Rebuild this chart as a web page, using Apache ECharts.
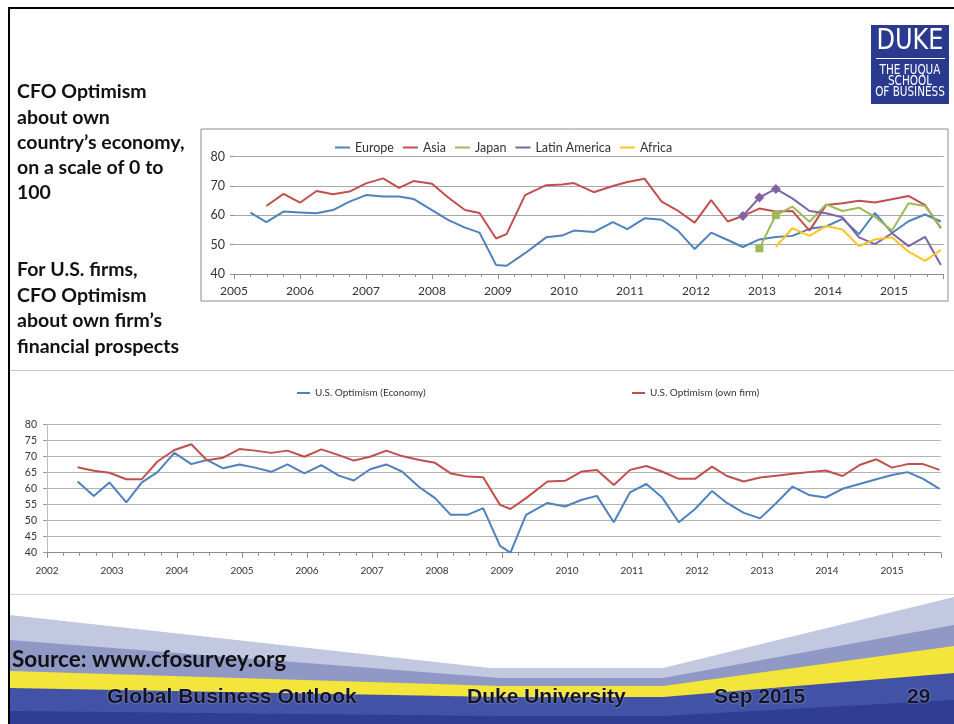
<!DOCTYPE html>
<html>
<head>
<meta charset="utf-8">
<script src="https://cdn.jsdelivr.net/npm/echarts@6/dist/echarts.min.js"></script>
<style>
  html, body { margin: 0; padding: 0; background: #ffffff; }
  #main { width: 954px; height: 724px; }
</style>
</head>
<body>
<div id="main"></div>
<script>
// ---- Regional CFO optimism about own country's economy (survey dates as decimal years)
const regionDates = [
  2005.25, 2005.49, 2005.75, 2006.0, 2006.25, 2006.5, 2006.75, 2007.0, 2007.26, 2007.5, 2007.72,
  2008.0, 2008.25, 2008.5, 2008.72, 2008.97, 2009.13, 2009.41, 2009.73, 2009.97, 2010.15, 2010.45,
  2010.74, 2010.96, 2011.22, 2011.48, 2011.73, 2011.98, 2012.23, 2012.48, 2012.71, 2012.96, 2013.21,
  2013.46, 2013.72, 2013.97, 2014.22, 2014.47, 2014.71, 2014.97, 2015.22, 2015.47, 2015.71
];
const europe = [
  60.9, 57.7, 61.3, 61.0, 60.7, 61.8, 64.7, 66.9, 66.4, 66.4, 65.6,
  61.8, 58.4, 55.8, 54.1, 43.1, 42.8, 47.1, 52.5, 53.1, 54.8, 54.3,
  57.7, 55.3, 59.0, 58.5, 54.7, 48.5, 54.1, 51.6, 49.2, 51.8, 52.6,
  53.0, 55.4, 56.2, 58.8, 53.6, 60.8, 54.0, 58.0, 60.3, 57.9
];
const asia = [
  null, 63.2, 67.3, 64.3, 68.3, 67.2, 68.1, 70.9, 72.6, 69.4, 71.7,
  70.8, 66.0, 61.8, 60.8, 52.1, 53.6, 66.9, 70.3, 70.5, 71.0, 67.9,
  70.0, 71.4, 72.5, 64.7, 61.5, 57.5, 65.2, 57.9, 59.8, 62.3, 61.3,
  61.5, 54.8, 63.5, 64.1, 65.0, 64.4, 65.5, 66.6, 63.5, 55.6
];
const japan = [
  null, null, null, null, null, null, null, null, null, null, null,
  null, null, null, null, null, null, null, null, null, null, null,
  null, null, null, null, null, null, null, null, null, 48.75, 60.1,
  63.0, 57.8, 63.75, 61.5, 62.6, 59.5, 54.8, 64.1, 63.2, 55.9
];
const latinAmerica = [
  null, null, null, null, null, null, null, null, null, null, null,
  null, null, null, null, null, null, null, null, null, null, null,
  null, null, null, null, null, null, null, null, 59.8, 66.1, 69.0,
  65.8, 61.5, 60.7, 59.3, 52.5, 50.2, 53.9, 49.5, 52.7, 43.1
];
const africa = [
  null, null, null, null, null, null, null, null, null, null, null,
  null, null, null, null, null, null, null, null, null, null, null,
  null, null, null, null, null, null, null, null, null, null, 49.3,
  55.6, 53.0, 56.4, 55.2, 49.5, 51.8, 52.5, 47.6, 44.5, 48.2
];
const regionNames = ['Europe', 'Asia', 'Japan', 'Latin America', 'Africa'];
// number of leading survey points drawn with a marker
const japanMarked = 2;
const latinMarked = 3;

// ---- U.S. CFO optimism
const usDates = [
  2002.47, 2002.72, 2002.96, 2003.22, 2003.46, 2003.70, 2003.96, 2004.22, 2004.46, 2004.71,
  2004.96, 2005.20, 2005.45, 2005.70, 2005.96, 2006.22, 2006.49, 2006.72, 2006.97, 2007.22,
  2007.46, 2007.73, 2007.97, 2008.21, 2008.47, 2008.71, 2008.97, 2009.13, 2009.37, 2009.70,
  2009.97, 2010.23, 2010.46, 2010.72, 2010.97, 2011.22, 2011.46, 2011.72, 2011.97, 2012.23,
  2012.46, 2012.72, 2012.97, 2013.22, 2013.47, 2013.72, 2013.98, 2014.24, 2014.50, 2014.76,
  2015.00, 2015.24, 2015.48, 2015.73
];
const usEconomy = [
  62.2, 57.7, 61.9, 55.7, 61.9, 65.1, 71.1, 67.6, 68.9, 66.3,
  67.5, 66.5, 65.2, 67.5, 64.7, 67.3, 64.0, 62.5, 66.0, 67.5,
  65.3, 60.4, 57.0, 51.8, 51.8, 53.9, 42.1, 40.0, 51.8, 55.5,
  54.4, 56.5, 57.7, 49.5, 58.8, 61.4, 57.3, 49.5, 53.6, 59.2,
  55.5, 52.4, 50.7, 55.5, 60.6, 58.0, 57.2, 59.9, 61.4, 62.9,
  64.2, 65.1, 63.0, 59.9
];
const usOwnFirm = [
  66.6, 65.5, 64.9, 62.9, 62.9, 68.4, 72.0, 73.8, 68.8, 69.6,
  72.3, 71.8, 71.1, 71.8, 69.9, 72.2, 70.4, 68.7, 69.9, 71.8,
  70.1, 68.9, 68.0, 64.7, 63.7, 63.5, 54.9, 53.6, 57.0, 62.2,
  62.4, 65.3, 65.8, 61.1, 65.8, 67.0, 65.3, 63.0, 63.0, 66.8,
  63.9, 62.2, 63.4, 64.0, 64.6, 65.1, 65.6, 63.9, 67.3, 69.1,
  66.5, 67.6, 67.6, 65.8
];
const usNames = ['U.S. Optimism (Economy)', 'U.S. Optimism (own firm)'];

// ---- slide text
const sideNoteTop = ['CFO Optimism', 'about own', 'country\u2019s economy,', 'on a scale of 0 to', '100'];
const sideNoteBottom = ['For U.S. firms,', 'CFO Optimism', 'about own firm\u2019s', 'financial prospects'];
const sourceNote = 'Source: www.cfosurvey.org';
const footerItems = ['Global Business Outlook', 'Duke University', 'Sep 2015', '29'];
const logoLines = ['THE FUQUA', 'SCHOOL', 'OF BUSINESS'];

const COLORS = {
  europe: '#4f81bd', asia: '#c0504d', japan: '#9bbb59', latin: '#8064a2', africa: '#fdc425'
};
const SANS = 'Lato, "Open Sans", sans-serif';
const NARROW = '"Liberation Sans Narrow", "DejaVu Sans Condensed", sans-serif';

function pairs(dates, values, marked, symbol, size) {
  const first = values.findIndex(function (x) { return x !== null; });
  return values.map(function (v, i) {
    if (v === null) return [dates[i], null];
    const item = { value: [dates[i], v] };
    if (marked && i - first < marked) {
      item.symbol = symbol;
      item.symbolSize = size;
    }
    return item;
  });
}

function isWhole(v) { return Math.abs(v - Math.round(v)) < 1e-6; }

function lineSeries(name, color, xi, yi, data) {
  return {
    name: name, type: 'line', xAxisIndex: xi, yAxisIndex: yi,
    data: data, symbol: 'none', showSymbol: true, connectNulls: false,
    lineStyle: { color: color, width: 2 }, itemStyle: { color: color },
    emphasis: { disabled: true }, silent: true, animation: false, z: 3
  };
}

function yearAxis(grid, min, max, labelSize, margin) {
  return [
    {
      gridIndex: grid, type: 'value', min: min, max: max, interval: 1, position: 'bottom',
      axisLine: { show: true, lineStyle: { color: '#8c8c8c', width: 1 } },
      axisTick: { show: true, length: 5, lineStyle: { color: '#8c8c8c' } },
      axisLabel: {
        margin: margin, fontSize: labelSize, color: '#333', fontFamily: SANS,
        formatter: function (v) { return isWhole(v) ? String(Math.round(v)) : ''; }
      },
      splitLine: { show: false }
    },
    {
      gridIndex: grid, type: 'value', min: min, max: max, interval: 0.25, position: 'bottom',
      axisLine: { show: false },
      axisTick: { show: true, length: 3, lineStyle: { color: '#8c8c8c' } },
      axisLabel: { show: false }, splitLine: { show: false }
    }
  ];
}

const graphics = [];
// slide frame
graphics.push({ type: 'rect', shape: { x: 8, y: 7, width: 946, height: 2 }, style: { fill: '#000' }, z: 50 });
graphics.push({ type: 'rect', shape: { x: 8, y: 7, width: 2, height: 717 }, style: { fill: '#000' }, z: 50 });
// chart panel frames
graphics.push({ type: 'rect', shape: { x: 201, y: 129, width: 747, height: 172 },
  style: { fill: 'none', stroke: '#8c8c8c', lineWidth: 1 }, z: 1 });
graphics.push({ type: 'line', shape: { x1: 10, y1: 370.5, x2: 954, y2: 370.5 },
  style: { stroke: '#c8c8c8', lineWidth: 1 }, z: 1 });
graphics.push({ type: 'line', shape: { x1: 10, y1: 594.5, x2: 954, y2: 594.5 },
  style: { stroke: '#d4d4d4', lineWidth: 1 }, z: 1 });

// side notes
sideNoteTop.forEach(function (t, i) {
  graphics.push({ type: 'text', x: 17, y: 92 + i * 25.3,
    style: { text: t, font: 'bold 19.5px ' + SANS, fill: '#111', textVerticalAlign: 'middle' }, z: 10 });
});
sideNoteBottom.forEach(function (t, i) {
  graphics.push({ type: 'text', x: 17, y: 270 + i * 25.5,
    style: { text: t, font: 'bold 19.5px ' + SANS, fill: '#111', textVerticalAlign: 'middle' }, z: 10 });
});

// logo (text scaled about its own anchor point)
graphics.push({ type: 'rect', shape: { x: 871, y: 25, width: 78, height: 79 }, style: { fill: '#2a3a8e' }, z: 10 });
graphics.push({ type: 'text', x: 910, y: 41, scaleX: 0.92,
  style: { text: 'DUKE', font: '29px ' + NARROW,
    fill: '#fff', textAlign: 'center', textVerticalAlign: 'middle' }, z: 11 });
graphics.push({ type: 'line', shape: { x1: 876, y1: 58.5, x2: 945, y2: 58.5 },
  style: { stroke: '#fff', lineWidth: 1 }, z: 11 });
logoLines.forEach(function (t, i) {
  graphics.push({ type: 'text', x: 910, y: 70 + i * 11, scaleX: 0.86,
    style: { text: t, font: '13.5px ' + NARROW,
      fill: '#fff', textAlign: 'center', textVerticalAlign: 'middle' }, z: 11 });
});

// footer bands, back to front
const bands = [
  { fill: '#c3c8e1', pts: [[10, 615], [490, 668], [663, 668], [954, 597]] },
  { fill: '#9098c6', pts: [[10, 640], [500, 678], [663, 678], [954, 625]] },
  { fill: '#f3e53a', pts: [[10, 671], [500, 686], [663, 686], [954, 646]] },
  { fill: '#4253a7', pts: [[10, 688], [500, 697], [663, 697], [954, 673]] },
  { fill: '#2f3d92', pts: [[10, 711], [500, 716], [663, 716], [954, 700]] }
];
bands.forEach(function (b, i) {
  const pts = b.pts.concat([[954, 724], [10, 724]]);
  graphics.push({ type: 'polygon', shape: { points: pts }, style: { fill: b.fill }, z: 2 + i * 0.1 });
});
graphics.push({ type: 'text', x: 12, y: 660,
  style: { text: sourceNote, font: 'bold 22.5px ' + SANS, fill: '#111', textVerticalAlign: 'middle' }, z: 10 });
const footerX = [107, 467, 714, 907];
footerItems.forEach(function (t, i) {
  graphics.push({ type: 'text', x: footerX[i], y: 697,
    style: { text: t, font: 'bold 21px "Liberation Sans", Arial, sans-serif', fill: '#141428',
      textVerticalAlign: 'middle', textShadowColor: 'rgba(255,255,255,0.6)', textShadowBlur: 2 }, z: 10 });
});

const option = {
  backgroundColor: '#ffffff',
  animation: false,
  legend: [
    {
      data: regionNames, left: 330, top: 136, itemWidth: 15, itemHeight: 2, itemGap: 9,
      icon: 'rect', textStyle: { fontSize: 12.5, color: '#333', fontFamily: SANS }, selectedMode: false
    },
    {
      data: [usNames[0]], left: 292, top: 383, itemWidth: 13, itemHeight: 2,
      icon: 'rect', textStyle: { fontSize: 10, color: '#333', fontFamily: SANS }, selectedMode: false
    },
    {
      data: [usNames[1]], left: 627, top: 383, itemWidth: 13, itemHeight: 2,
      icon: 'rect', textStyle: { fontSize: 10, color: '#333', fontFamily: SANS }, selectedMode: false
    }
  ],
  grid: [
    { left: 234, top: 156.7, width: 709.5, height: 117.3 },
    { left: 47, top: 424.3, width: 893.75, height: 128.4 }
  ],
  xAxis: yearAxis(0, 2005, 2015.75, 12, 11).concat(yearAxis(1, 2002, 2015.75, 10, 13)),
  yAxis: [
    {
      gridIndex: 0, type: 'value', min: 40, max: 80, interval: 10,
      axisLine: { show: false },
      axisTick: { show: true, length: 4, lineStyle: { color: '#8c8c8c' } },
      axisLabel: { margin: 9, fontSize: 12.5, color: '#333', fontFamily: SANS },
      splitLine: { show: true, lineStyle: { color: '#a8a8a8', width: 1 } }
    },
    {
      gridIndex: 1, type: 'value', min: 40, max: 80, interval: 5,
      axisLine: { show: true, lineStyle: { color: '#bdbdbd' } },
      axisTick: { show: true, length: 4, lineStyle: { color: '#9a9a9a' } },
      axisLabel: { margin: 10, fontSize: 10.5, color: '#333', fontFamily: SANS },
      splitLine: { show: true, lineStyle: { color: '#b4b4b4', width: 1 } }
    }
  ],
  series: [
    lineSeries('Europe', COLORS.europe, 0, 0, pairs(regionDates, europe)),
    lineSeries('Asia', COLORS.asia, 0, 0, pairs(regionDates, asia)),
    lineSeries('Japan', COLORS.japan, 0, 0, pairs(regionDates, japan, japanMarked, 'rect', 8)),
    lineSeries('Latin America', COLORS.latin, 0, 0, pairs(regionDates, latinAmerica, latinMarked, 'diamond', 10)),
    lineSeries('Africa', COLORS.africa, 0, 0, pairs(regionDates, africa)),
    lineSeries(usNames[0], COLORS.europe, 2, 1, pairs(usDates, usEconomy)),
    lineSeries(usNames[1], COLORS.asia, 2, 1, pairs(usDates, usOwnFirm))
  ],
  graphic: { elements: graphics }
};

const chart = echarts.init(document.getElementById('main'));
chart.setOption(option);
</script>
</body>
</html>
